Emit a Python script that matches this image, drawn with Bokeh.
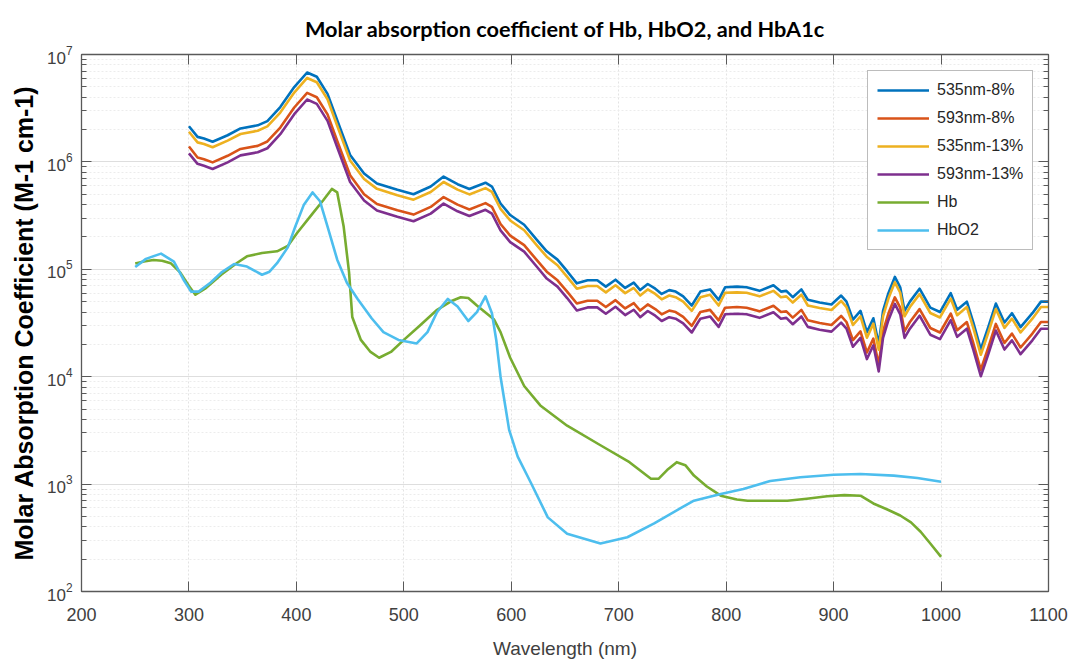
from bokeh.plotting import figure
from bokeh.models import (Legend, LegendItem, LinearAxis, LogAxis, FixedTicker,
                          CustomLabelingPolicy)
from bokeh.embed import file_html
from bokeh.resources import INLINE

# ---------------- data ----------------
wl_hba1c = [300, 308, 314, 322, 336, 348, 364, 373, 385, 398, 410, 419, 429, 438, 450,
            463, 475, 494, 509, 525, 537, 550, 561, 576, 582, 590, 599, 612, 624, 633,
            643, 652, 661, 671, 680, 688, 697, 706, 714, 720, 727, 734, 740, 747, 753,
            760, 768, 776, 785, 793, 799, 810, 819, 831, 844, 851, 856, 862, 870, 876,
            887, 898, 907, 912, 918, 925, 931, 937, 942, 946, 951, 957, 962, 966, 971,
            980, 990, 999, 1009, 1015, 1024, 1030, 1037, 1044, 1051, 1059, 1066, 1074,
            1085, 1093, 1100]

nm535_8 = [2.15e6, 1.71e6, 1.65e6, 1.54e6, 1.77e6, 2.05e6, 2.19e6, 2.40e6, 3.24e6, 4.97e6,
           6.80e6, 6.2e6, 4.3e6, 2.44e6, 1.16e6, 7.8e5, 6.3e5, 5.5e5, 5.0e5, 5.9e5,
           7.3e5, 6.2e5, 5.6e5, 6.4e5, 5.9e5, 4.1e5, 3.2e5, 2.6e5, 1.87e5, 1.47e5,
           1.23e5, 9.6e4, 7.4e4, 7.9e4, 7.9e4, 6.9e4, 8.0e4, 6.7e4, 7.5e4, 6.4e4,
           7.3e4, 6.6e4, 5.9e4, 6.4e4, 6.2e4, 5.6e4, 4.6e4, 6.2e4, 6.5e4, 5.2e4,
           6.8e4, 6.9e4, 6.8e4, 6.3e4, 7.1e4, 6.2e4, 6.3e4, 5.5e4, 6.5e4, 5.2e4,
           4.9e4, 4.7e4, 5.7e4, 5.0e4, 3.4e4, 4.1e4, 2.6e4, 3.5e4, 2.0e4, 4.1e4,
           6.0e4, 8.5e4, 6.8e4, 4.1e4, 5.0e4, 6.6e4, 4.4e4, 4.0e4, 6.0e4, 4.2e4,
           5.0e4, 3.2e4, 1.8e4, 2.9e4, 4.8e4, 3.2e4, 3.9e4, 2.9e4, 3.9e4, 5.0e4, 5.0e4]

nm593_8 = [1.39e6, 1.10e6, 1.06e6, 9.9e5, 1.14e6, 1.32e6, 1.41e6, 1.55e6, 2.09e6, 3.21e6,
           4.39e6, 4.00e6, 2.77e6, 1.57e6, 7.5e5, 5.0e5, 4.06e5, 3.55e5, 3.23e5, 3.81e5,
           4.71e5, 4.0e5, 3.61e5, 4.13e5, 3.81e5, 2.64e5, 2.06e5, 1.68e5, 1.21e5, 9.5e4,
           7.9e4, 6.2e4, 4.8e4, 5.1e4, 5.1e4, 4.45e4, 5.16e4, 4.32e4, 4.84e4, 4.13e4,
           4.71e4, 4.26e4, 3.81e4, 4.13e4, 4.0e4, 3.61e4, 2.97e4, 4.0e4, 4.19e4, 3.35e4,
           4.39e4, 4.45e4, 4.39e4, 4.06e4, 4.58e4, 4.0e4, 4.06e4, 3.55e4, 4.19e4, 3.35e4,
           3.16e4, 3.03e4, 3.68e4, 3.23e4, 2.19e4, 2.64e4, 1.68e4, 2.26e4, 1.29e4, 2.64e4,
           3.87e4, 5.48e4, 4.39e4, 2.64e4, 3.23e4, 4.26e4, 2.84e4, 2.58e4, 3.87e4, 2.71e4,
           3.23e4, 2.06e4, 1.16e4, 1.87e4, 3.10e4, 2.06e4, 2.52e4, 1.87e4, 2.52e4, 3.23e4, 3.23e4]

nm535_13 = [1.91e6, 1.52e6, 1.47e6, 1.37e6, 1.58e6, 1.82e6, 1.95e6, 2.14e6, 2.88e6, 4.42e6,
            6.05e6, 5.52e6, 3.83e6, 2.17e6, 1.03e6, 6.94e5, 5.61e5, 4.90e5, 4.45e5, 5.25e5,
            6.50e5, 5.52e5, 4.98e5, 5.70e5, 5.25e5, 3.65e5, 2.85e5, 2.31e5, 1.66e5, 1.31e5,
            1.09e5, 8.5e4, 6.6e4, 7.0e4, 7.0e4, 6.1e4, 7.1e4, 6.0e4, 6.7e4, 5.7e4,
            6.5e4, 5.9e4, 5.25e4, 5.7e4, 5.5e4, 5.0e4, 4.1e4, 5.5e4, 5.8e4, 4.6e4,
            6.05e4, 6.1e4, 6.05e4, 5.6e4, 6.3e4, 5.5e4, 5.6e4, 4.9e4, 5.8e4, 4.6e4,
            4.36e4, 4.18e4, 5.07e4, 4.45e4, 3.03e4, 3.65e4, 2.31e4, 3.12e4, 1.78e4, 3.65e4,
            5.34e4, 7.57e4, 6.05e4, 3.65e4, 4.45e4, 5.87e4, 3.92e4, 3.56e4, 5.34e4, 3.74e4,
            4.45e4, 2.85e4, 1.60e4, 2.58e4, 4.27e4, 2.85e4, 3.47e4, 2.58e4, 3.47e4, 4.45e4, 4.45e4]

nm593_13 = [1.20e6, 9.6e5, 9.2e5, 8.6e5, 9.9e5, 1.15e6, 1.23e6, 1.34e6, 1.81e6, 2.78e6,
            3.81e6, 3.47e6, 2.41e6, 1.37e6, 6.5e5, 4.37e5, 3.53e5, 3.08e5, 2.80e5, 3.30e5,
            4.09e5, 3.47e5, 3.14e5, 3.58e5, 3.30e5, 2.30e5, 1.79e5, 1.46e5, 1.05e5, 8.2e4,
            6.9e4, 5.4e4, 4.14e4, 4.42e4, 4.42e4, 3.86e4, 4.48e4, 3.75e4, 4.2e4, 3.58e4,
            4.09e4, 3.70e4, 3.30e4, 3.58e4, 3.47e4, 3.14e4, 2.58e4, 3.47e4, 3.64e4, 2.91e4,
            3.81e4, 3.86e4, 3.81e4, 3.53e4, 3.98e4, 3.47e4, 3.53e4, 3.08e4, 3.64e4, 2.91e4,
            2.74e4, 2.63e4, 3.19e4, 2.80e4, 1.90e4, 2.30e4, 1.46e4, 1.96e4, 1.12e4, 2.30e4,
            3.36e4, 4.76e4, 3.81e4, 2.30e4, 2.80e4, 3.70e4, 2.46e4, 2.24e4, 3.36e4, 2.35e4,
            2.80e4, 1.79e4, 1.01e4, 1.62e4, 2.69e4, 1.79e4, 2.18e4, 1.62e4, 2.18e4, 2.80e4, 2.80e4]

wl_hb = [250, 258, 267, 275, 283, 292, 300, 306, 315, 330, 345, 354, 368, 382, 392, 401,
         415, 425, 433, 438, 444, 449, 452, 460, 469, 477, 488, 500, 515, 531, 545, 553,
         560, 568, 584, 590, 599, 612, 627, 652, 683, 710, 730, 737, 745, 754, 762, 770,
         782, 795, 810, 820, 840, 857, 875, 894, 910, 925, 937, 950, 962, 972, 981, 990, 1000]
hb = [1.13e5, 1.18e5, 1.22e5, 1.20e5, 1.14e5, 9.3e4, 7.0e4, 5.8e4, 6.6e4, 8.9e4, 1.15e5,
      1.32e5, 1.42e5, 1.47e5, 1.65e5, 2.2e5, 3.3e5, 4.4e5, 5.6e5, 5.2e5, 2.5e5, 9.4e4,
      3.6e4, 2.2e4, 1.7e4, 1.5e4, 1.7e4, 2.2e4, 3.0e4, 4.2e4, 5.1e4, 5.5e4, 5.4e4, 4.6e4,
      3.4e4, 2.6e4, 1.5e4, 8.2e3, 5.4e3, 3.5e3, 2.3e3, 1.6e3, 1.12e3, 1.12e3, 1.35e3,
      1.6e3, 1.5e3, 1.2e3, 9.5e2, 7.8e2, 7.2e2, 7.0e2, 7.0e2, 7.0e2, 7.3e2, 7.7e2, 7.9e2,
      7.8e2, 6.6e2, 5.8e2, 5.1e2, 4.4e2, 3.6e2, 2.8e2, 2.1e2]

wl_hbo2 = [250, 260, 274, 286, 295, 302, 309, 320, 330, 342, 354, 368, 375, 382, 392, 399,
           407, 415, 422, 429, 438, 447, 457, 470, 481, 495, 512, 522, 531, 541, 550, 560,
           568, 576, 582, 586, 590, 598, 606, 618, 634, 652, 683, 708, 733, 758, 770, 795,
           816, 841, 869, 900, 925, 956, 978, 1000]
hbo2 = [1.05e5, 1.25e5, 1.40e5, 1.18e5, 8.0e4, 6.2e4, 6.2e4, 7.5e4, 9.3e4, 1.12e5, 1.06e5,
        8.9e4, 9.5e4, 1.14e5, 1.6e5, 2.5e5, 4.0e5, 5.2e5, 4.3e5, 2.5e5, 1.23e5, 7.5e4,
        5.3e4, 3.5e4, 2.6e4, 2.2e4, 2.04e4, 2.6e4, 4.0e4, 5.3e4, 4.5e4, 3.3e4, 4.0e4,
        5.6e4, 3.9e4, 2.2e4, 1.0e4, 3.2e3, 1.8e3, 1.04e3, 4.9e2, 3.45e2, 2.8e2, 3.2e2,
        4.3e2, 6.0e2, 7.0e2, 8.1e2, 9.0e2, 1.07e3, 1.16e3, 1.22e3, 1.24e3, 1.2e3, 1.14e3, 1.05e3]

x_ticks = [200, 300, 400, 500, 600, 700, 800, 900, 1000, 1100]
y_ticks = [1e2, 1e3, 1e4, 1e5, 1e6, 1e7]
y_minor = [k * 10 ** e for e in range(2, 7) for k in range(2, 10)]
title_text = "Molar absorption coefficient of Hb, HbO2, and HbA1c"

series = [
    ("535nm-8%", wl_hba1c, nm535_8, "#0072BD"),
    ("593nm-8%", wl_hba1c, nm593_8, "#D95319"),
    ("535nm-13%", wl_hba1c, nm535_13, "#EDB120"),
    ("593nm-13%", wl_hba1c, nm593_13, "#7E2F8E"),
    ("Hb", wl_hb, hb, "#77AC30"),
    ("HbO2", wl_hbo2, hbo2, "#4DBEEE"),
]

# ---------------- figure ----------------
p = figure(width=1073, height=661, x_range=(200, 1100), y_range=(1e2, 1e7),
           y_axis_type="log", output_backend="svg", toolbar_location=None,
           min_border_left=81, min_border_right=25, min_border_top=54,
           min_border_bottom=68, background_fill_color="white",
           border_fill_color="white")

p.title.text = title_text
p.title.align = "center"
p.title.text_font = "Lato"
p.title.text_font_style = "bold"
p.title.text_font_size = "21.7px"
p.title.text_color = "#000000"
p.title.standoff = 17

axis_col = "#595959"
label_col = "#404040"
sans = "Liberation Sans"
yt = FixedTicker(ticks=y_ticks, minor_ticks=y_minor)
xt = FixedTicker(ticks=x_ticks)

bottom = p.xaxis[0]
left = p.yaxis[0]

bottom.ticker = xt
bottom.axis_label = "Wavelength (nm)"
bottom.axis_label_text_font = sans
bottom.axis_label_text_font_style = "normal"
bottom.axis_label_text_font_size = "19px"
bottom.axis_label_text_color = label_col
bottom.axis_label_standoff = 14
bottom.major_label_standoff = 16

left.ticker = yt
left.axis_label = "Molar Absorption Coefficient (M-1 cm-1)"
left.axis_label_text_font = sans
left.axis_label_text_font_style = "bold"
left.axis_label_text_font_size = "25px"
left.axis_label_text_color = "#000000"
left.axis_label_standoff = 6
left.major_label_standoff = 9

hide = CustomLabelingPolicy(code="""
try { return new indices.constructor(indices.size, 0) }
catch (e) { for (const i of [...indices.ones()]) { indices.unset(i) } return indices }
""")
top = LinearAxis(ticker=xt, major_label_policy=hide, major_label_standoff=0)
right = LogAxis(ticker=yt, major_label_policy=hide, major_label_standoff=0)
p.add_layout(top, "above")
p.add_layout(right, "right")

for ax in [bottom, left, top, right]:
    ax.axis_line_color = axis_col
    ax.axis_line_width = 1.3
    ax.major_tick_line_color = axis_col
    ax.minor_tick_line_color = axis_col
    ax.major_tick_in = 10
    ax.major_tick_out = 0
    ax.minor_tick_in = 5
    ax.minor_tick_out = 0
    ax.major_label_text_font = sans
    ax.major_label_text_color = label_col
for ax in [bottom, top]:
    ax.minor_tick_line_color = None
bottom.major_label_text_font_size = "18px"
left.major_label_text_font_size = "17px"
top.major_label_text_font_size = "1px"
right.major_label_text_font_size = "1px"

p.xgrid.grid_line_color = "#e3e3e3"
p.xgrid.grid_line_dash = "2 2"
p.ygrid.grid_line_color = "#dedede"
p.ygrid.minor_grid_line_color = "#ececec"
p.ygrid.minor_grid_line_dash = "2 2"
p.outline_line_color = axis_col

items = []
for name, xs, ys, col in series:
    r = p.line(xs, ys, line_color=col, line_width=2.6, line_join="round")
    items.append(LegendItem(label=name, renderers=[r]))

legend = Legend(items=items, location=(786, 341), orientation="vertical",
                glyph_width=52, glyph_height=20, label_height=20, spacing=8,
                padding=9, margin=0, label_standoff=8,
                label_text_font=sans, label_text_font_size="16px",
                label_text_color="#262626", border_line_color="#7a7a7a",
                border_line_width=1.2, background_fill_color="white",
                background_fill_alpha=1.0)
p.add_layout(legend)

open("out.html", "w").write(file_html(p, INLINE))
